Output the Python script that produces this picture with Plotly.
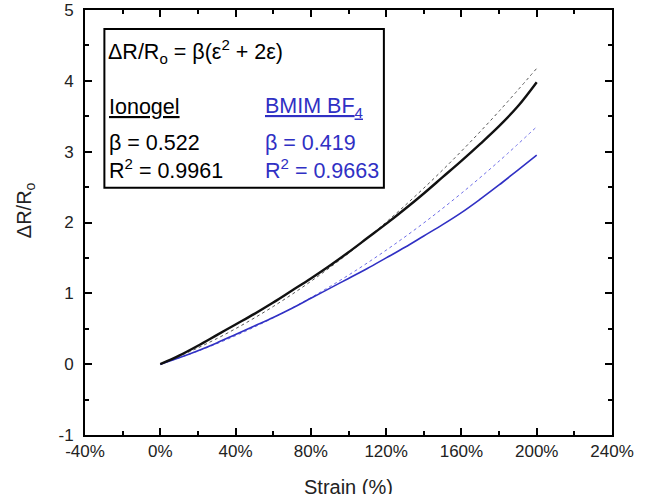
import plotly.graph_objects as go

# Strain (%) sample points
strain = [0, 10, 20, 30, 40, 50, 60, 70, 80, 90, 100, 110, 120, 130, 140, 150, 160, 170, 180, 190, 200]

ionogel = [0, 0.12, 0.26, 0.41, 0.56, 0.71, 0.87, 1.04, 1.21, 1.39, 1.58, 1.78, 1.98, 2.19, 2.41, 2.64,
           2.87, 3.11, 3.36, 3.64, 3.98]
bmim = [0, 0.09, 0.19, 0.30, 0.42, 0.54, 0.66, 0.79, 0.93, 1.07, 1.21, 1.35, 1.50, 1.65, 1.81, 1.97,
        2.14, 2.33, 2.53, 2.74, 2.95]

# Fitted curves
fit_strain = [0, 20, 40, 60, 80, 100, 120, 140, 160, 180, 200]
ionogel_fit = [0, 0.230, 0.501, 0.814, 1.169, 1.566, 2.005, 2.485, 3.007, 3.571, 4.176]
bmim_fit = [0, 0.184, 0.402, 0.654, 0.939, 1.257, 1.609, 1.994, 2.413, 2.866, 3.352]

x_ticks = [-40, 0, 40, 80, 120, 160, 200, 240]
x_labels = ["-40%", "0%", "40%", "80%", "120%", "160%", "200%", "240%"]
y_ticks = [-1, 0, 1, 2, 3, 4, 5]
y_labels = ["-1", "0", "1", "2", "3", "4", "5"]

FONT = "Liberation Sans, Arial, sans-serif"
BLUE = "rgb(48,48,196)"
BLUE_LIGHT = "rgb(110,110,232)"

fig = go.Figure()
fig.add_trace(go.Scatter(x=fit_strain, y=ionogel_fit, mode="lines", line_shape="spline",
                         line=dict(color="#555555", width=1, dash="3px,3px"), showlegend=False))
fig.add_trace(go.Scatter(x=fit_strain, y=bmim_fit, mode="lines", line_shape="spline",
                         line=dict(color=BLUE_LIGHT, width=1, dash="3px,3px"), showlegend=False))
fig.add_trace(go.Scatter(x=strain, y=bmim, mode="lines", line_shape="spline",
                         line=dict(color=BLUE, width=1.6), showlegend=False))
fig.add_trace(go.Scatter(x=strain, y=ionogel, mode="lines", line_shape="spline",
                         line=dict(color="#111111", width=2.4), showlegend=False))

axis_common = dict(showline=True, linecolor="black", linewidth=2, mirror="allticks",
                   ticks="inside", ticklen=7, tickwidth=1.5, tickcolor="black",
                   showgrid=False, zeroline=False, automargin=False,
                   ticklabeloverflow="allow",
                   tickfont=dict(family=FONT, size=17, color="#222222"))

fig.update_xaxes(range=[-40, 240], tickvals=x_ticks, ticktext=x_labels,
                 minor=dict(ticks="inside", ticklen=4, dtick=20, tick0=0, tickcolor="black", tickwidth=1.5),
                 ticklabelstandoff=0, **axis_common)
fig.update_yaxes(range=[-1, 5], tickvals=y_ticks, ticktext=y_labels,
                 minor=dict(ticks="inside", ticklen=4, dtick=0.5, tick0=0, tickcolor="black", tickwidth=1.5),
                 ticklabelstandoff=6, **axis_common)

# Legend box
fig.add_shape(type="rect", xref="x", yref="y", x0=-29.7, x1=118.8, y0=2.49, y1=4.73,
              line=dict(color="black", width=2), fillcolor="white", layer="above")

ann_font = dict(family=FONT, size=21.5, color="black")
blue_font = dict(family=FONT, size=21.5, color=BLUE)
anns = [
    (-28.6, 4.41, "ΔR/R<sub>o</sub> = β(ε<sup>2</sup> + 2ε)", ann_font),
    (-28.2, 3.63, "<u>Ionogel</u>", ann_font),
    (54.6, 3.63, "<u>BMIM BF<sub>4</sub></u>", blue_font),
    (-28.2, 3.12, "β = 0.522", ann_font),
    (54.6, 3.12, "β = 0.419", blue_font),
    (-28.2, 2.76, "R<sup>2</sup> = 0.9961", ann_font),
    (54.6, 2.76, "R<sup>2</sup> = 0.9663", blue_font),
]
for x, y, t, f in anns:
    fig.add_annotation(x=x, y=y, xref="x", yref="y", text=t, showarrow=False,
                       xanchor="left", yanchor="middle", font=f)

# Axis titles
fig.add_annotation(x=0.50, y=-0.123, xref="paper", yref="paper", text="Strain (%)",
                   showarrow=False, xanchor="center", yanchor="middle",
                   font=dict(family=FONT, size=20, color="#222222"))
fig.add_annotation(x=-0.113, y=0.53, xref="paper", yref="paper", text="ΔR/R<sub>o</sub>",
                   showarrow=False, xanchor="center", yanchor="middle", textangle=-90,
                   font=dict(family=FONT, size=20, color="#222222"))

fig.update_layout(template="none", width=647, height=494, margin=dict(l=85, r=35, t=10, b=59),
                  plot_bgcolor="white", paper_bgcolor="white", showlegend=False)

fig.write_html("out.html", config={"displayModeBar": False},
               post_script="document.body.style.margin='0';document.body.style.overflow='hidden';")
